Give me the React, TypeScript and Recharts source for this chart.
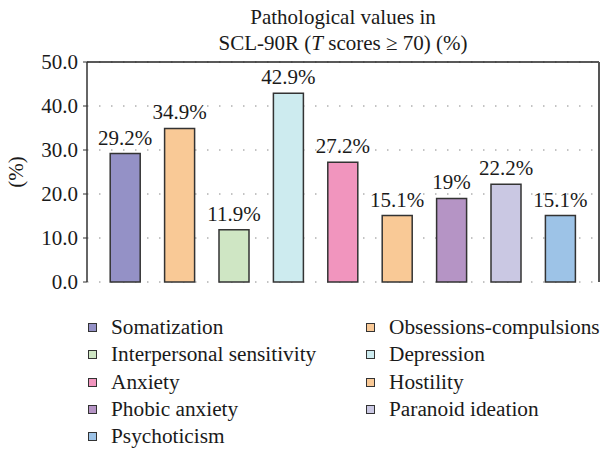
import React from 'react';
import { BarChart, Bar, XAxis, YAxis, CartesianGrid, Cell, LabelList, Legend, ReferenceLine } from 'recharts';

const categories = [
  'Somatization',
  'Obsessions-compulsions',
  'Interpersonal sensitivity',
  'Depression',
  'Anxiety',
  'Hostility',
  'Phobic anxiety',
  'Paranoid ideation',
  'Psychoticism',
];
const values = [29.2, 34.9, 11.9, 42.9, 27.2, 15.1, 19, 22.2, 15.1];
const colors = ['#9491c6', '#f9c996', '#cfe6c4', '#cdebef', '#f195be', '#f9c996', '#b594c5', '#cac8e3', '#9dc3e7'];
const yTicks = [0, 10, 20, 30, 40, 50];

const data = categories.map((name, i) => ({ name, value: values[i] }));

const FONT = "'Liberation Serif', 'Times New Roman', Tinos, 'DejaVu Serif', 'Noto Serif', serif";

const LegendContent = () => (
  <div style={{ position: 'relative', width: 601, height: 140, fontFamily: FONT, fontSize: 21.3, color: '#1a1a1a' }}>
    {categories.map((c, i) => {
      const col = i % 2;
      const row = Math.floor(i / 2);
      return (
        <div
          key={c}
          style={{
            position: 'absolute',
            left: col === 0 ? 88 : 366,
            top: row * 27.3,
            height: 27,
            lineHeight: '27px',
            whiteSpace: 'nowrap',
            display: 'flex',
            alignItems: 'center',
          }}
        >
          <span
            style={{
              display: 'inline-block',
              width: 7,
              height: 7,
              border: '1px solid #333',
              background: colors[i],
              marginRight: 14,
            }}
          />
          <span>{c}</span>
        </div>
      );
    })}
  </div>
);

export default function App() {
  return (
    <div style={{ position: 'absolute', left: 0, top: 0, width: 601, height: 451, background: '#fff' }}>
      <div
        style={{
          position: 'absolute',
          left: 87,
          top: 4,
          width: 512,
          textAlign: 'center',
          fontFamily: FONT,
          fontSize: 21,
          lineHeight: '26px',
          color: '#1a1a1a',
        }}
      >
        Pathological values in
        <br />
        SCL-90R (<i>T</i> scores ≥ 70) (%)
      </div>
      <BarChart
        width={601}
        height={451}
        data={data}
        margin={{ top: 62, right: 0, bottom: 169, left: 0 }}
        barSize={30}
      >
        <CartesianGrid vertical={false} stroke="#888" strokeDasharray="1.5 10.5" />
        <XAxis
          dataKey="name"
          tick={false}
          tickLine={false}
          axisLine={{ stroke: '#333', strokeWidth: 1.5 }}
          padding={{ left: 11.2, right: 11.2 }}
          height={0}
        />
        <YAxis
          domain={[0, 50]}
          ticks={yTicks}
          width={87}
          tickFormatter={(v: number) => v.toFixed(1)}
          tick={{ fill: '#1a1a1a', fontSize: 21, fontFamily: FONT }}
          tickSize={4}
          tickMargin={5}
          tickLine={{ stroke: '#333' }}
          axisLine={{ stroke: '#333', strokeWidth: 1.5 }}
          label={{
            content: () => (
              <text
                x={16}
                y={172}
                transform="rotate(-90 16 172)"
                textAnchor="middle"
                dominantBaseline="central"
                fontFamily={FONT}
                fontSize={21}
                fill="#1a1a1a"
              >
                (%)
              </text>
            ),
          }}
        />
        <YAxis
          yAxisId="right"
          orientation="right"
          domain={[0, 50]}
          width={2}
          tick={false}
          tickLine={false}
          axisLine={{ stroke: '#555', strokeWidth: 2 }}
        />
        <ReferenceLine y={50} stroke="#222" strokeWidth={1.5} />
        <Legend
          layout="horizontal"
          verticalAlign="middle"
          align="center"
          content={<LegendContent />}
          wrapperStyle={{ left: 0, top: 314, width: 601, height: 140 }}
        />
        <Bar dataKey="value" isAnimationActive={false} stroke="#333" strokeWidth={1.5}>
          {data.map((d, i) => (
            <Cell key={d.name} fill={colors[i]} />
          ))}
          <LabelList
            dataKey="value"
            position="top"
            offset={9}
            formatter={(v: number) => `${v}%`}
            style={{ fill: '#1a1a1a', fontSize: 21, fontFamily: FONT }}
          />
        </Bar>
      </BarChart>
    </div>
  );
}
